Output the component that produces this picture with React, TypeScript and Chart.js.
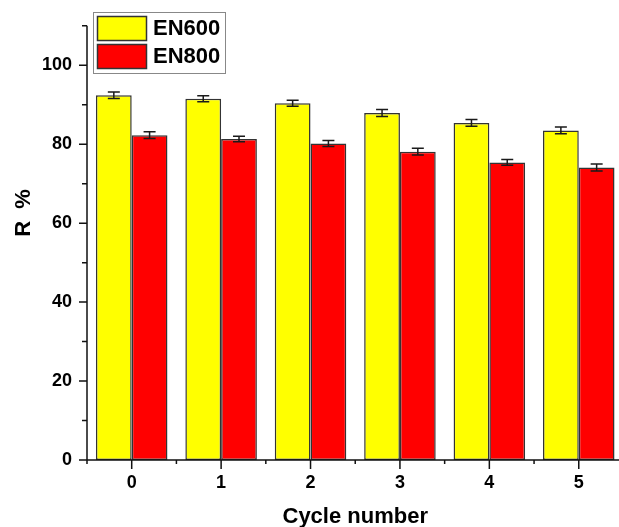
import React, { useEffect, useRef } from 'react';
import { Chart, registerables } from 'chart.js';

Chart.register(...registerables);

const cycles = [0, 1, 2, 3, 4, 5];
const seriesLabels = ['EN600', 'EN800'];
const en600 = [92.4, 91.5, 90.4, 87.9, 85.4, 83.5];
const en600Err = [0.8, 0.75, 0.75, 0.9, 0.85, 0.85];
const en800 = [82.3, 81.3, 80.2, 78.1, 75.4, 74.1];
const en800Err = [0.85, 0.7, 0.75, 0.85, 0.75, 0.9];
const yTicks = [0, 20, 40, 60, 80, 100];
const yMinorTicks = [10, 30, 50, 70, 90, 110];
const xMinorTicks = [-0.5, 0.5, 1.5, 2.5, 3.5, 4.5, 5.5];
const xTitle = 'Cycle number';
const yTitle = 'R  %';

const FONT = '"Liberation Sans", Arial, sans-serif';
const COLORS = ['#ffff00', '#ff0000'];

const decor = {
  id: 'decor',
  afterDatasetsDraw(chart: any) {
    const ctx = chart.ctx;
    const y = chart.scales.y;
    chart.data.datasets.forEach((ds: any, di: number) => {
      const meta = chart.getDatasetMeta(di);
      meta.data.forEach((bar: any, i: number) => {
        const v = ds.data[i].y;
        const e = ds.errors[i];
        const yt = y.getPixelForValue(v + e);
        const yb = y.getPixelForValue(v - e);
        ctx.save();
        ctx.strokeStyle = '#1a1a1a';
        ctx.lineWidth = 1.5;
        ctx.beginPath();
        ctx.moveTo(bar.x, yt);
        ctx.lineTo(bar.x, yb);
        ctx.moveTo(bar.x - 6, yt);
        ctx.lineTo(bar.x + 6, yt);
        ctx.moveTo(bar.x - 6, yb);
        ctx.lineTo(bar.x + 6, yb);
        ctx.stroke();
        ctx.restore();
      });
    });
  },
  afterDraw(chart: any) {
    const ctx = chart.ctx;
    const { x, y } = chart.scales;
    const a = chart.chartArea;
    ctx.save();
    ctx.strokeStyle = '#111';
    ctx.lineWidth = 1.5;
    ctx.beginPath();
    // axis lines
    ctx.moveTo(a.left, a.top);
    ctx.lineTo(a.left, a.bottom);
    ctx.moveTo(a.left, a.bottom);
    ctx.lineTo(a.right, a.bottom);
    // y ticks
    yTicks.forEach((v) => {
      const p = y.getPixelForValue(v);
      ctx.moveTo(a.left - 8, p);
      ctx.lineTo(a.left, p);
    });
    yMinorTicks.forEach((v) => {
      const p = y.getPixelForValue(v);
      ctx.moveTo(a.left - 5, p);
      ctx.lineTo(a.left, p);
    });
    cycles.forEach((v) => {
      const p = x.getPixelForValue(v);
      ctx.moveTo(p, a.bottom);
      ctx.lineTo(p, a.bottom + 9);
    });
    xMinorTicks.forEach((v) => {
      const p = x.getPixelForValue(v);
      ctx.moveTo(p, a.bottom);
      ctx.lineTo(p, a.bottom + 4);
    });
    ctx.stroke();

    // legend
    ctx.strokeStyle = '#888';
    ctx.lineWidth = 1;
    ctx.fillStyle = '#fff';
    ctx.fillRect(93.5, 12.5, 132, 61);
    ctx.strokeRect(93.5, 12.5, 132, 61);
    chart.data.datasets.forEach((ds: any, i: number) => {
      const top = 16 + i * 28;
      ctx.fillStyle = ds.backgroundColor;
      ctx.fillRect(97, top, 50, 25);
      ctx.strokeStyle = '#333';
      ctx.lineWidth = 1.5;
      ctx.strokeRect(97.5, top + 0.5, 49, 24);
      ctx.fillStyle = '#000';
      ctx.font = `bold 22px ${FONT}`;
      ctx.textAlign = 'left';
      ctx.textBaseline = 'middle';
      ctx.fillText(ds.label, 153, top + 13);
    });

    // titles
    ctx.fillStyle = '#000';
    ctx.font = `bold 22px ${FONT}`;
    ctx.textAlign = 'center';
    ctx.textBaseline = 'middle';
    ctx.fillText(xTitle, x.getPixelForValue(2.5), 517);
    ctx.translate(24, 213);
    ctx.rotate(-Math.PI / 2);
    ctx.fillText(yTitle, 0, 0);
    ctx.restore();
  },
};

export default function App() {
  const ref = useRef<HTMLCanvasElement>(null);
  useEffect(() => {
    if (!ref.current) return;
    const chart = new Chart(ref.current, {
      type: 'bar',
      data: {
        datasets: [
          {
            label: seriesLabels[0],
            data: cycles.map((c, i) => ({ x: c, y: en600[i] })),
            errors: en600Err,
            backgroundColor: COLORS[0],
            borderColor: '#333',
            borderWidth: 1.5,
            borderSkipped: false,
            categoryPercentage: 0.8,
            barPercentage: 1.0,
          } as any,
          {
            label: seriesLabels[1],
            data: cycles.map((c, i) => ({ x: c, y: en800[i] })),
            errors: en800Err,
            backgroundColor: COLORS[1],
            borderColor: '#333',
            borderWidth: 1.5,
            borderSkipped: false,
            categoryPercentage: 0.8,
            barPercentage: 1.0,
          } as any,
        ],
      },
      options: {
        responsive: false,
        animation: false,
        layout: { padding: { top: 25, left: 0, right: 0, bottom: 0 } },
        plugins: {
          legend: { display: false },
          tooltip: { enabled: false },
        },
        scales: {
          x: {
            type: 'linear',
            min: -0.5,
            max: 5.45,
            offset: false,
            grid: { display: false, drawTicks: false },
            border: { display: false },
            afterFit: (s: any) => {
              s.height = 67;
            },
            afterBuildTicks: (s: any) => {
              s.ticks = cycles.map((v) => ({ value: v }));
            },
            ticks: {
              padding: 12,
              color: '#000',
              font: { family: FONT, size: 18, weight: 'bold' },
              callback: (v: any) => String(v),
            },
          },
          y: {
            min: 0,
            max: 110,
            grid: { display: false, drawTicks: false },
            border: { display: false },
            afterFit: (s: any) => {
              s.width = 87;
            },
            afterBuildTicks: (s: any) => {
              s.ticks = yTicks.map((v) => ({ value: v }));
            },
            ticks: {
              padding: 15,
              color: '#000',
              font: { family: FONT, size: 18, weight: 'bold' },
              callback: (v: any) => String(v),
            },
          },
        },
      } as any,
      plugins: [decor],
    });
    return () => chart.destroy();
  }, []);
  return (
    <div style={{ position: 'fixed', left: 0, top: 0, width: 619, height: 527, background: '#fff' }}>
      <canvas ref={ref} width={619} height={527} style={{ display: 'block' }} />
    </div>
  );
}
